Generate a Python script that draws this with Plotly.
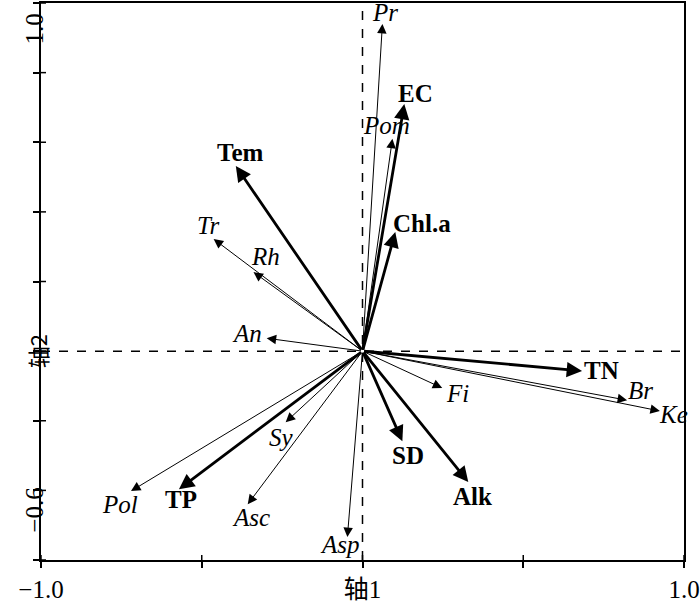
import plotly.graph_objects as go

# Environmental variables (bold, thick arrows)
env_names = ["Tem", "EC", "Chl.a", "TN", "SD", "Alk", "TP"]
env_x = [-0.394, 0.130, 0.102, 0.683, 0.124, 0.329, -0.571]
env_y = [0.532, 0.710, 0.342, -0.057, -0.259, -0.376, -0.397]
env_lx = [-0.382, 0.165, 0.186, 0.742, 0.143, 0.342, -0.565]
env_ly = [0.572, 0.741, 0.368, -0.057, -0.299, -0.417, -0.425]

# Species (italic, thin arrows)
sp_names = ["Pr", "Pom", "Tr", "Rh", "An", "Br", "Ke", "Fi", "Sy", "Pol", "Asc", "Asp"]
sp_x = [0.062, 0.093, -0.463, -0.339, -0.298, 0.823, 0.925, 0.248, -0.239, -0.720, -0.357, -0.047]
sp_y = [0.940, 0.610, 0.322, 0.227, 0.037, -0.141, -0.172, -0.106, -0.204, -0.402, -0.440, -0.534]
sp_lx = [0.071, 0.075, -0.478, -0.301, -0.360, 0.866, 0.966, 0.295, -0.252, -0.755, -0.348, -0.071]
sp_ly = [0.973, 0.647, 0.362, 0.273, 0.052, -0.112, -0.181, -0.121, -0.247, -0.440, -0.477, -0.555]

x_ticks = [-1.0, -0.5, 0.0, 0.5, 1.0]
x_ticktext = ["\u22121.0", "", "轴1", "", "1.0"]
y_ticks = [-0.6, -0.4, -0.2, 0.0, 0.2, 0.4, 0.6, 0.8, 1.0]

SERIF = "Liberation Serif"
CJK = "Noto Sans CJK SC"
FS = 25

fig = go.Figure()
fig.add_trace(go.Scatter(x=[0], y=[0], mode="markers", marker=dict(size=1, color="rgba(0,0,0,0)"),
                         showlegend=False, hoverinfo="skip"))

ann = []
for n, x, y in zip(sp_names, sp_x, sp_y):
    ann.append(dict(x=x, y=y, ax=0, ay=0, xref="x", yref="y", axref="x", ayref="y",
                    text="", showarrow=True, arrowhead=2, arrowsize=1.9, arrowwidth=1,
                    arrowcolor="black"))
for n, x, y in zip(env_names, env_x, env_y):
    ann.append(dict(x=x, y=y, ax=0, ay=0, xref="x", yref="y", axref="x", ayref="y",
                    text="", showarrow=True, arrowhead=2, arrowsize=1.1, arrowwidth=2.8,
                    arrowcolor="black"))
for n, x, y in zip(sp_names, sp_lx, sp_ly):
    ann.append(dict(x=x, y=y, xref="x", yref="y", text="<i>%s</i>" % n, showarrow=False,
                    font=dict(family=SERIF, size=FS, color="black")))
for n, x, y in zip(env_names, env_lx, env_ly):
    ann.append(dict(x=x, y=y, xref="x", yref="y", text="<b>%s</b>" % n, showarrow=False,
                    font=dict(family=SERIF, size=FS, color="black")))

# y-axis labels (rotated)
ann.append(dict(x=0, xref="paper", xshift=-22, y=0.925, yref="y", text="1.0", textangle=-90,
                showarrow=False, font=dict(family=SERIF, size=FS, color="black")))
ann.append(dict(x=0, xref="paper", xshift=-22, y=0.0, yref="y", text="轴2", textangle=-90,
                showarrow=False, font=dict(family=CJK, size=22, color="black")))
ann.append(dict(x=0, xref="paper", xshift=-22, y=-0.457, yref="y", text="\u22120.6", textangle=-90,
                showarrow=False, font=dict(family=SERIF, size=FS, color="black")))

shapes = [
    dict(type="line", x0=0, x1=0, y0=-0.6, y1=1.0, xref="x", yref="y",
         line=dict(color="black", width=1.5, dash="dash"), layer="below"),
    dict(type="line", x0=-1, x1=1, y0=0, y1=0, xref="x", yref="y",
         line=dict(color="black", width=1.5, dash="dash"), layer="below"),
]
# inner halves of the tick marks (ticks cross the axis line)
for v in x_ticks:
    shapes.append(dict(type="line", xref="x", yref="y", ysizemode="pixel", yanchor=-0.6,
                       x0=v, x1=v, y0=0, y1=5, line=dict(color="black", width=1.5)))
for v in y_ticks:
    shapes.append(dict(type="line", xref="x", yref="y", xsizemode="pixel", xanchor=-1.0,
                       y0=v, y1=v, x0=0, x1=5, line=dict(color="black", width=1.5)))

fig.update_layout(
    width=700, height=604,
    margin=dict(l=41, r=16, t=3, b=44),
    plot_bgcolor="white", paper_bgcolor="white",
    showlegend=False,
    annotations=ann,
    shapes=shapes,
)
fig.update_xaxes(range=[-1, 1], showgrid=False, zeroline=False, showline=True, mirror=True,
                 linecolor="black", linewidth=1.5, ticks="outside", ticklen=6, tickwidth=1.5,
                 tickcolor="black", tickvals=x_ticks, ticktext=x_ticktext, automargin=False,
                 tickfont=dict(family="Liberation Serif, Noto Sans CJK SC", size=FS, color="black"))
fig.update_yaxes(range=[-0.6, 1.0], showgrid=False, zeroline=False, showline=True, mirror=True,
                 linecolor="black", linewidth=1.5, ticks="outside", ticklen=6, tickwidth=1.5,
                 tickcolor="black", tickvals=y_ticks, ticktext=[""] * len(y_ticks), automargin=False)

fig.write_html("out.html", config={"displayModeBar": False},
               post_script="document.body.style.margin='0';document.body.style.overflow='hidden';")
